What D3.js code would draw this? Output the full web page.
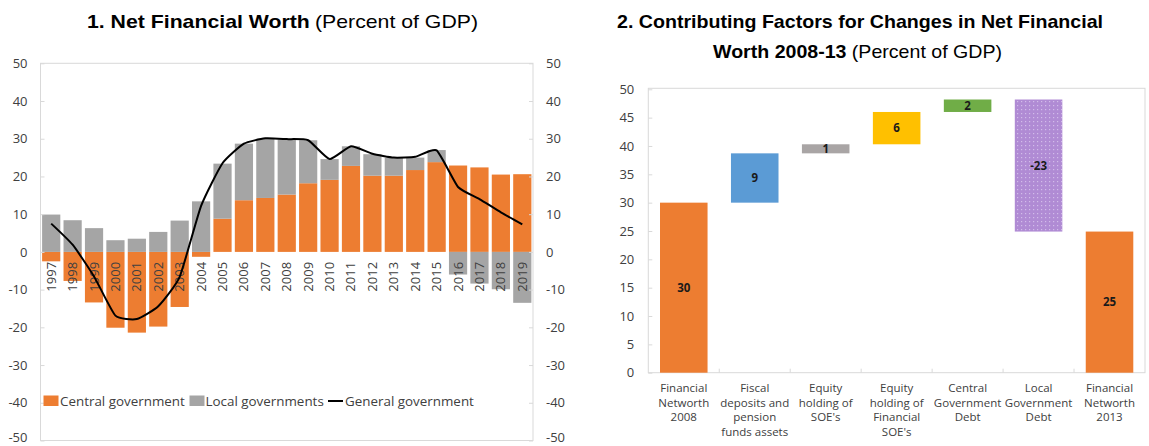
<!DOCTYPE html>
<html><head><meta charset="utf-8">
<script src="https://cdn.jsdelivr.net/npm/d3@7"></script>
<style>body{margin:0;background:#fff}svg{display:block}</style>
</head><body><svg id="c" width="1149" height="446"></svg>
<script>
// ---------- Panel 1 data ----------
const years = ["1997","1998","1999","2000","2001","2002","2003","2004","2005","2006","2007","2008","2009","2010","2011","2012","2013","2014","2015","2016","2017","2018","2019"];
const central = [-2.5,-7.7,-13.4,-20.1,-21.4,-19.8,-14.6,-1.3,8.8,13.7,14.3,15.2,18.2,19.1,22.8,20.2,20.2,21.7,23.8,22.9,22.4,20.5,20.6];
const local = [9.9,8.4,6.3,3.1,3.5,5.3,8.3,13.4,14.6,15.0,15.7,14.6,11.4,5.5,5.2,5.7,4.7,3.3,3.2,-6.0,-8.4,-9.9,-13.5];
const general = [7.5,1.9,-6.5,-16.9,-17.8,-14.4,-6.6,12.2,23.5,28.7,30.1,29.9,29.6,24.6,28.0,26.0,25.0,25.2,26.9,17.2,14.0,10.5,7.3];
const leftTicks = [50,40,30,20,10,0,-10,-20,-30,-40,-50];
const legendNames = ["Central government","Local governments","General government"];

// ---------- Panel 2 data ----------
const factors = ["Financial|Networth|2008","Fiscal|deposits and|pension|funds assets","Equity|holding of|SOE's","Equity|holding of|Financial|SOE's","Central|Government|Debt","Local|Government|Debt","Financial|Networth|2013"];
const factorValues = [30, 8.7, 1.6, 5.7, 2.2, -23.3, 24.9];
const factorKinds = ["total","delta","delta","delta","delta","delta","total"];
const factorLabels = ["30","9","1","6","2","-23","25"];
const rightTicks = [0,5,10,15,20,25,30,35,40,45,50];

// ---------- styles ----------
const C_ORANGE = "#ED7D31", C_GRAY = "#A5A5A5";
const factorColors = ["#ED7D31","#5B9BD5","#A9A5A5","#FFC000","#70AD47","url(#dots)","#ED7D31"];
const FRAME = "#D9D9D9", TXT = "#404040";
const FONT = "'Open Sans', 'Noto Sans', sans-serif";
const TFONT = "'Liberation Sans', Arial, sans-serif";

const svg = d3.select("#c");
const defs = svg.append("defs");
const pat = defs.append("pattern").attr("id","dots").attr("patternUnits","userSpaceOnUse")
  .attr("width",4).attr("height",4);
pat.append("rect").attr("width",4).attr("height",4).attr("fill","#B08BD4");
pat.append("rect").attr("x",1).attr("y",1).attr("width",1.2).attr("height",1.2).attr("fill","#D2BCEA");

// ---------- Titles ----------
function titleLine(cx, y, boldText, normText, size, totalW){
  const g = svg.append("g").attr("font-family",TFONT).attr("font-size",size).attr("fill","#000");
  const b = g.append("text").attr("font-weight","bold").attr("y",y).text(boldText);
  const n = normText ? g.append("text").attr("y",y).text(normText) : null;
  const gap = normText ? size*0.28 : 0;
  const bw = b.node().getComputedTextLength();
  const nw = n ? n.node().getComputedTextLength() : 0;
  const k = (totalW-gap)/(bw+nw);
  const x0 = cx - totalW/2;
  b.attr("x",x0).attr("textLength",bw*k).attr("lengthAdjust","spacingAndGlyphs");
  if (n) n.attr("x",x0+bw*k+gap).attr("textLength",nw*k).attr("lengthAdjust","spacingAndGlyphs");
}
titleLine(282.5, 28, "1. Net Financial Worth", "(Percent of GDP)", 19, 391);
titleLine(860, 28, "2. Contributing Factors for Changes in Net Financial", null, 19, 486);
titleLine(857.5, 58, "Worth 2008-13", "(Percent of GDP)", 19, 289);

// ---------- Panel 1 ----------
const L = {x0:40.5, x1:533, y0:63.3, y1:440.5};
const x1 = d3.scaleBand().domain(years).range([L.x0,L.x1]).paddingInner(0.15).paddingOuter(0.075);
const y1 = d3.scaleLinear().domain([-50,50]).range([L.y1,L.y0]);

const g1 = svg.append("g");
g1.append("rect").attr("x",L.x0).attr("y",L.y0).attr("width",L.x1-L.x0).attr("height",L.y1-L.y0)
  .attr("fill","none").attr("stroke",FRAME).attr("stroke-width",1);

const rows = years.map((yr,i)=>({year:yr, central:central[i], local:local[i]}));
const stack = d3.stack().keys(["central","local"]).offset(d3.stackOffsetDiverging)(rows);
const colors1 = {central:C_ORANGE, local:C_GRAY};
stack.forEach(s=>{
  g1.append("g").attr("fill",colors1[s.key]).selectAll("rect").data(s).join("rect")
    .attr("x",d=>x1(d.data.year)).attr("width",x1.bandwidth())
    .attr("y",d=>y1(Math.max(d[0],d[1]))).attr("height",d=>Math.abs(y1(d[0])-y1(d[1])));
});

const fmt = d=>String(d);
const axL = g1.append("g").attr("transform",`translate(${L.x0},0)`)
  .call(d3.axisLeft(y1).tickValues(leftTicks).tickSize(-4).tickPadding(13).tickFormat(fmt));
const axR = g1.append("g").attr("transform",`translate(${L.x1},0)`)
  .call(d3.axisRight(y1).tickValues(leftTicks).tickSize(-4).tickPadding(13).tickFormat(fmt));
[axL,axR].forEach(a=>{
  a.select(".domain").remove();
  a.selectAll(".tick line").attr("stroke",FRAME);
  a.selectAll("text").attr("font-family",FONT).attr("font-size",13).attr("fill",TXT);
  a.selectAll(".tick").filter(d=>d===-50).select("text").attr("dy","0.05em");
});

// year labels
g1.append("g").selectAll("text").data(years).join("text")
  .attr("transform",d=>`translate(${x1(d)+x1.bandwidth()/2+4.5},${y1(0)+10}) rotate(-90)`)
  .attr("text-anchor","end").attr("font-family",FONT).attr("font-size",13).attr("fill",TXT)
  .text(d=>d);

// general government line
const line = d3.line().x((d,i)=>x1(years[i])+x1.bandwidth()/2).y(d=>y1(d)).curve(d3.curveCardinal.tension(0.5));
g1.append("path").datum(general).attr("d",line).attr("fill","none").attr("stroke","#000").attr("stroke-width",2);

// legend
const lg = g1.append("g").attr("font-family",FONT).attr("font-size",13.4).attr("fill",TXT);
lg.append("rect").attr("x",43.5).attr("y",395.5).attr("width",15).attr("height",10.5).attr("fill",C_ORANGE);
lg.append("text").attr("x",60).attr("y",405.5).text(legendNames[0]);
lg.append("rect").attr("x",189.5).attr("y",395.5).attr("width",15).attr("height",10.5).attr("fill",C_GRAY);
lg.append("text").attr("x",205.5).attr("y",405.5).text(legendNames[1]);
lg.append("line").attr("x1",328).attr("x2",343).attr("y1",401).attr("y2",401).attr("stroke","#000").attr("stroke-width",2);
lg.append("text").attr("x",345).attr("y",405.5).text(legendNames[2]);

// ---------- Panel 2 ----------
const R = {x0:648.3, x1:1145, y0:88.3, y1:372.7};
const x2 = d3.scaleBand().domain(factors).range([R.x0,R.x1]).paddingInner(0.33).paddingOuter(0.165);
const y2 = d3.scaleLinear().domain([0,50]).range([R.y1,89.3]);
const g2 = svg.append("g");
g2.append("rect").attr("x",R.x0).attr("y",R.y0).attr("width",R.x1-R.x0).attr("height",R.y1-R.y0)
  .attr("fill","none").attr("stroke",FRAME).attr("stroke-width",1);

let run = 0;
const wf = factors.map((f,i)=>{
  let a,b;
  if (factorKinds[i]==="total"){ a=0; b=factorValues[i]; run=b; }
  else { a=run; b=run+factorValues[i]; run=b; }
  return {f, lo:Math.min(a,b), hi:Math.max(a,b), label:factorLabels[i], color:factorColors[i]};
});
g2.append("g").selectAll("rect").data(wf).join("rect")
  .attr("x",d=>x2(d.f)).attr("width",x2.bandwidth())
  .attr("y",d=>y2(d.hi)).attr("height",d=>y2(d.lo)-y2(d.hi)).attr("fill",d=>d.color);
g2.append("g").selectAll("text").data(wf).join("text")
  .attr("x",d=>x2(d.f)+x2.bandwidth()/2).attr("y",d=>(y2(d.lo)+y2(d.hi))/2+4)
  .attr("text-anchor","middle").attr("font-family",FONT).attr("font-weight","bold").attr("font-size",11.5)
  .attr("fill","#1a1a1a").text(d=>d.label);

const ax2 = g2.append("g").attr("transform",`translate(${R.x0},0)`)
  .call(d3.axisLeft(y2).tickValues(rightTicks).tickSize(-4).tickPadding(14).tickFormat(fmt));
ax2.select(".domain").remove();
ax2.selectAll(".tick line").attr("stroke",FRAME);
ax2.selectAll("text").attr("font-family",FONT).attr("font-size",13).attr("fill",TXT);

// category boundary ticks
g2.append("g").selectAll("line").data(factors.slice(1)).join("line")
  .attr("x1",d=>x2(d)-x2.step()*x2.paddingInner()/2).attr("x2",d=>x2(d)-x2.step()*x2.paddingInner()/2)
  .attr("y1",R.y1).attr("y2",R.y1-4).attr("stroke",FRAME);

// category labels
const cl = g2.append("g").selectAll("text").data(factors).join("text")
  .attr("text-anchor","middle").attr("font-family",FONT).attr("font-size",11.5).attr("fill",TXT)
  .attr("transform",d=>`translate(${x2(d)+x2.bandwidth()/2},392)`);
cl.each(function(d){
  const parts = d.split("|");
  d3.select(this).selectAll("tspan").data(parts).join("tspan")
    .attr("x",0).attr("dy",(p,i)=>i===0?0:14.5).text(p=>p);
});
</script></body></html>
